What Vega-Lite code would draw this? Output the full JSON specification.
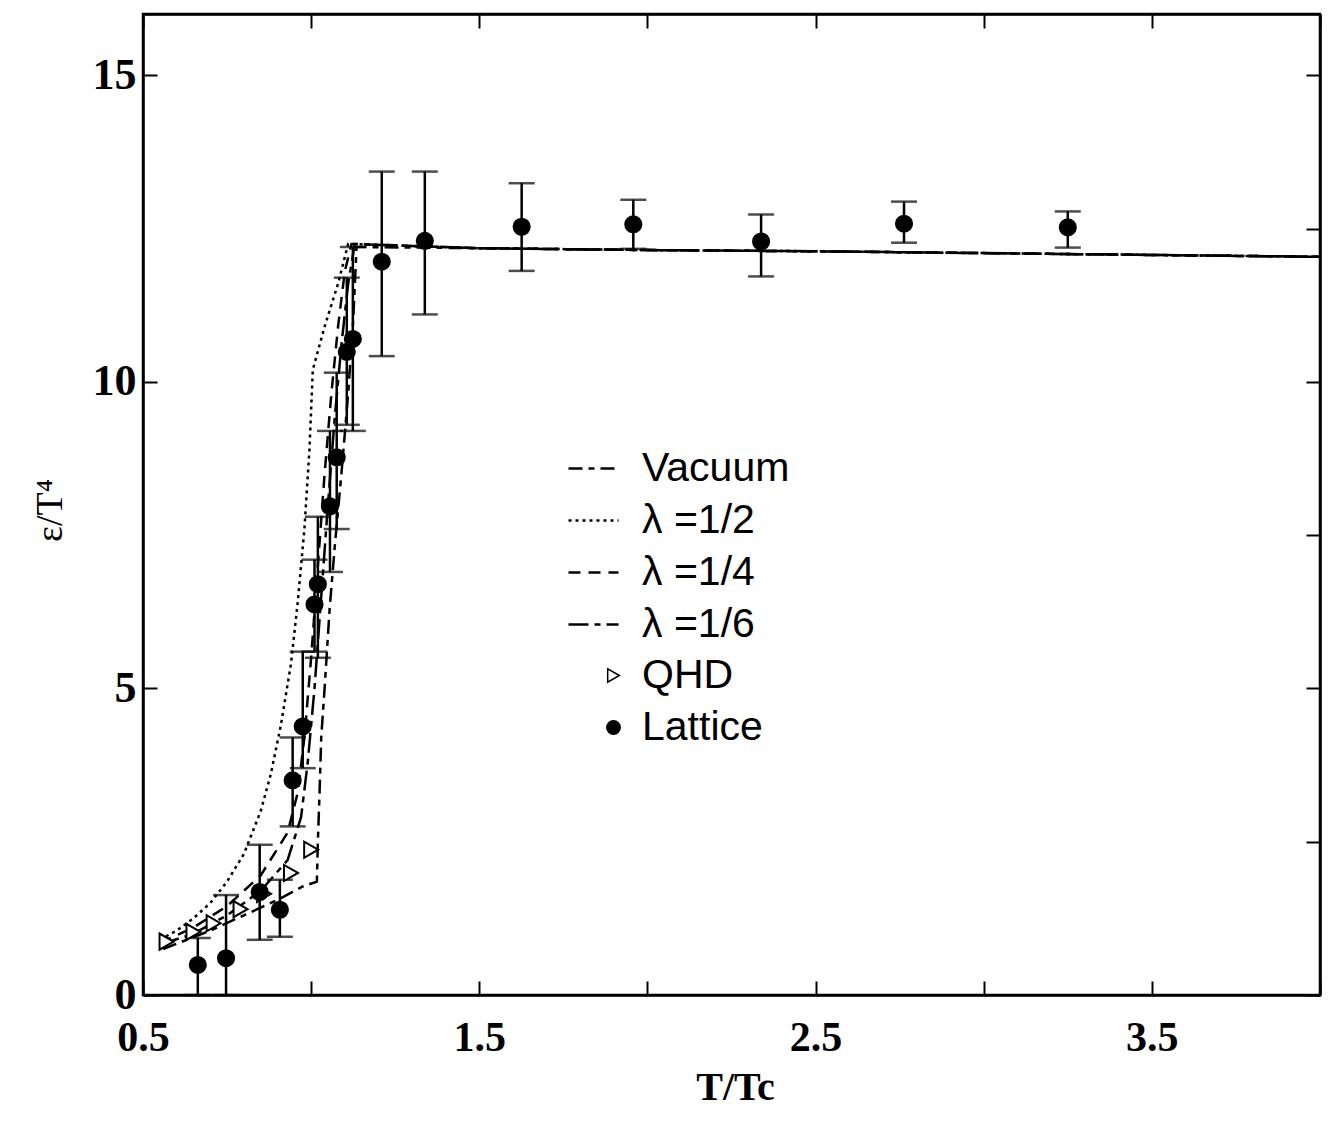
{
  "$schema": "https://vega.github.io/schema/vega-lite/v6.json",
  "autosize": "none",
  "width": 1177,
  "height": 981,
  "padding": {"left": 143, "top": 14, "right": 8, "bottom": 129},
  "background": "white",
  "config": {
    "view": {"stroke": "black", "strokeWidth": 2.5},
    "axis": {
      "domainColor": "black", "domainWidth": 2.5, "tickColor": "black", "tickWidth": 2,
      "grid": false, "labelFont": "Liberation Serif", "labelFontWeight": "bold", "labelFontSize": 42,
      "labelColor": "black", "titleColor": "black"
    },
    "legend": {"labelFont": "Liberation Sans", "labelFontSize": 41, "labelColor": "black", "padding": 0}
  },
  "datasets": {
    "curves": [
      {"T": 0.56, "e": 0.75, "model": "Vacuum"}, {"T": 0.7, "e": 1.05, "model": "Vacuum"}, {"T": 0.8, "e": 1.3, "model": "Vacuum"},
      {"T": 0.9, "e": 1.55, "model": "Vacuum"}, {"T": 0.975, "e": 1.77, "model": "Vacuum"}, {"T": 1.017, "e": 1.85, "model": "Vacuum"},
      {"T": 1.02, "e": 2.5, "model": "Vacuum"}, {"T": 1.025, "e": 3.3, "model": "Vacuum"}, {"T": 1.03, "e": 4.2, "model": "Vacuum"},
      {"T": 1.04, "e": 5.0, "model": "Vacuum"}, {"T": 1.055, "e": 6.3, "model": "Vacuum"}, {"T": 1.07, "e": 7.3, "model": "Vacuum"},
      {"T": 1.09, "e": 8.5, "model": "Vacuum"}, {"T": 1.11, "e": 9.8, "model": "Vacuum"}, {"T": 1.125, "e": 11.0, "model": "Vacuum"},
      {"T": 1.135, "e": 12.2, "model": "Vacuum"}, {"T": 1.5, "e": 12.18, "model": "Vacuum"}, {"T": 2.0, "e": 12.15, "model": "Vacuum"},
      {"T": 2.5, "e": 12.13, "model": "Vacuum"}, {"T": 3.0, "e": 12.1, "model": "Vacuum"}, {"T": 3.5, "e": 12.07, "model": "Vacuum"},
      {"T": 4.0, "e": 12.04, "model": "Vacuum"},

      {"T": 0.55, "e": 0.9, "model": "λ =1/2"}, {"T": 0.6, "e": 1.05, "model": "λ =1/2"}, {"T": 0.65, "e": 1.25, "model": "λ =1/2"},
      {"T": 0.7, "e": 1.5, "model": "λ =1/2"}, {"T": 0.75, "e": 1.85, "model": "λ =1/2"}, {"T": 0.8, "e": 2.3, "model": "λ =1/2"},
      {"T": 0.85, "e": 3.0, "model": "λ =1/2"}, {"T": 0.88, "e": 3.6, "model": "λ =1/2"}, {"T": 0.91, "e": 4.4, "model": "λ =1/2"},
      {"T": 0.94, "e": 5.4, "model": "λ =1/2"}, {"T": 0.96, "e": 6.4, "model": "λ =1/2"}, {"T": 0.98, "e": 7.6, "model": "λ =1/2"},
      {"T": 0.995, "e": 8.9, "model": "λ =1/2"}, {"T": 1.005, "e": 10.2, "model": "λ =1/2"}, {"T": 1.04, "e": 10.9, "model": "λ =1/2"},
      {"T": 1.08, "e": 11.6, "model": "λ =1/2"}, {"T": 1.11, "e": 12.25, "model": "λ =1/2"}, {"T": 1.5, "e": 12.18, "model": "λ =1/2"},
      {"T": 2.0, "e": 12.15, "model": "λ =1/2"}, {"T": 2.5, "e": 12.13, "model": "λ =1/2"}, {"T": 3.0, "e": 12.1, "model": "λ =1/2"},
      {"T": 3.5, "e": 12.07, "model": "λ =1/2"}, {"T": 4.0, "e": 12.04, "model": "λ =1/2"},

      {"T": 0.55, "e": 0.85, "model": "λ =1/4"}, {"T": 0.65, "e": 1.1, "model": "λ =1/4"}, {"T": 0.75, "e": 1.45, "model": "λ =1/4"},
      {"T": 0.85, "e": 1.95, "model": "λ =1/4"}, {"T": 0.93, "e": 2.65, "model": "λ =1/4"}, {"T": 0.96, "e": 3.3, "model": "λ =1/4"},
      {"T": 0.98, "e": 4.2, "model": "λ =1/4"}, {"T": 1.0, "e": 5.5, "model": "λ =1/4"}, {"T": 1.02, "e": 7.0, "model": "λ =1/4"},
      {"T": 1.04, "e": 8.5, "model": "λ =1/4"}, {"T": 1.06, "e": 9.8, "model": "λ =1/4"}, {"T": 1.08, "e": 10.9, "model": "λ =1/4"},
      {"T": 1.1, "e": 11.8, "model": "λ =1/4"}, {"T": 1.12, "e": 12.25, "model": "λ =1/4"}, {"T": 1.5, "e": 12.18, "model": "λ =1/4"},
      {"T": 2.0, "e": 12.15, "model": "λ =1/4"}, {"T": 2.5, "e": 12.13, "model": "λ =1/4"}, {"T": 3.0, "e": 12.1, "model": "λ =1/4"},
      {"T": 3.5, "e": 12.07, "model": "λ =1/4"}, {"T": 4.0, "e": 12.04, "model": "λ =1/4"},

      {"T": 0.55, "e": 0.82, "model": "λ =1/6"}, {"T": 0.65, "e": 1.0, "model": "λ =1/6"}, {"T": 0.75, "e": 1.3, "model": "λ =1/6"},
      {"T": 0.85, "e": 1.7, "model": "λ =1/6"}, {"T": 0.93, "e": 2.2, "model": "λ =1/6"}, {"T": 0.97, "e": 2.9, "model": "λ =1/6"},
      {"T": 0.99, "e": 3.8, "model": "λ =1/6"}, {"T": 1.01, "e": 5.0, "model": "λ =1/6"}, {"T": 1.03, "e": 6.5, "model": "λ =1/6"},
      {"T": 1.05, "e": 8.0, "model": "λ =1/6"}, {"T": 1.07, "e": 9.4, "model": "λ =1/6"}, {"T": 1.09, "e": 10.6, "model": "λ =1/6"},
      {"T": 1.11, "e": 11.6, "model": "λ =1/6"}, {"T": 1.13, "e": 12.25, "model": "λ =1/6"}, {"T": 1.5, "e": 12.18, "model": "λ =1/6"},
      {"T": 2.0, "e": 12.15, "model": "λ =1/6"}, {"T": 2.5, "e": 12.13, "model": "λ =1/6"}, {"T": 3.0, "e": 12.1, "model": "λ =1/6"},
      {"T": 3.5, "e": 12.07, "model": "λ =1/6"}, {"T": 4.0, "e": 12.04, "model": "λ =1/6"}
    ],
    "points": [
      {"T": 0.57, "e": 0.87, "series": "QHD"}, {"T": 0.65, "e": 1.03, "series": "QHD"}, {"T": 0.71, "e": 1.17, "series": "QHD"},
      {"T": 0.79, "e": 1.4, "series": "QHD"}, {"T": 0.86, "e": 1.65, "series": "QHD"}, {"T": 0.94, "e": 1.99, "series": "QHD"},
      {"T": 1.0, "e": 2.37, "series": "QHD"},
      {"T": 0.663, "e": 0.49, "lo": 0.0, "hi": 0.93, "series": "Lattice"},
      {"T": 0.747, "e": 0.6, "lo": 0.0, "hi": 1.63, "series": "Lattice"},
      {"T": 0.847, "e": 1.68, "lo": 0.9, "hi": 2.45, "series": "Lattice"},
      {"T": 0.907, "e": 1.39, "lo": 0.95, "hi": 1.88, "series": "Lattice"},
      {"T": 0.945, "e": 3.5, "lo": 2.75, "hi": 4.2, "series": "Lattice"},
      {"T": 0.975, "e": 4.38, "lo": 3.7, "hi": 5.6, "series": "Lattice"},
      {"T": 1.01, "e": 6.37, "lo": 5.6, "hi": 7.1, "series": "Lattice"},
      {"T": 1.02, "e": 6.7, "lo": 5.5, "hi": 7.8, "series": "Lattice"},
      {"T": 1.056, "e": 7.97, "lo": 6.9, "hi": 9.2, "series": "Lattice"},
      {"T": 1.076, "e": 8.77, "lo": 7.6, "hi": 10.15, "series": "Lattice"},
      {"T": 1.106, "e": 10.49, "lo": 9.3, "hi": 11.7, "series": "Lattice"},
      {"T": 1.124, "e": 10.7, "lo": 9.2, "hi": 12.2, "series": "Lattice"},
      {"T": 1.21, "e": 11.96, "lo": 10.42, "hi": 13.43, "series": "Lattice"},
      {"T": 1.338, "e": 12.3, "lo": 11.1, "hi": 13.43, "series": "Lattice"},
      {"T": 1.626, "e": 12.53, "lo": 11.81, "hi": 13.24, "series": "Lattice"},
      {"T": 1.958, "e": 12.57, "lo": 12.17, "hi": 12.97, "series": "Lattice"},
      {"T": 2.338, "e": 12.29, "lo": 11.72, "hi": 12.73, "series": "Lattice"},
      {"T": 2.763, "e": 12.58, "lo": 12.27, "hi": 12.94, "series": "Lattice"},
      {"T": 3.25, "e": 12.52, "lo": 12.19, "hi": 12.78, "series": "Lattice"}
    ]
  },
  "resolve": {"axis": {"x": "independent", "y": "independent"}},
  "layer": [
    {
      "data": {"name": "curves"},
      "mark": {"type": "line", "stroke": "black", "strokeWidth": 2.5},
      "encoding": {
        "x": {"field": "T", "type": "quantitative",
          "scale": {"domain": [0.5, 4.0], "nice": false, "zero": false},
          "axis": {"values": [0.5, 1, 1.5, 2, 2.5, 3, 3.5, 4], "tickSize": -14,
            "labelExpr": "datum.value % 1 == 0.5 ? format(datum.value, '.1f') : ''",
            "labelPadding": 36, "labelFlush": false,
            "title": "T/Tc", "titleFont": "Liberation Serif", "titleFontWeight": "bold", "titleFontSize": 40,
            "titleX": 592, "titleY": 92, "titleBaseline": "middle"}},
        "y": {"field": "e", "type": "quantitative",
          "scale": {"domain": [0, 16], "nice": false},
          "axis": {"values": [0, 5, 10, 15], "tickSize": -14, "labelPadding": 21, "labelFlush": false,
            "labelFontSize": 44,
            "title": "ε/T⁴", "titleFont": "Liberation Serif", "titleFontWeight": "normal", "titleFontSize": 38,
            "titleAngle": -90, "titleX": -93, "titleY": 496, "titleAlign": "center", "titleBaseline": "middle"}},
        "strokeDash": {"field": "model", "type": "nominal",
          "scale": {"domain": ["Vacuum", "λ =1/2", "λ =1/4", "λ =1/6"],
            "range": [[14, 6, 6, 6], [3, 4], [12, 8], [20, 6, 6, 6]]},
          "legend": {"title": null, "orient": "none", "legendX": 424, "legendY": 428,
            "symbolType": "stroke", "symbolSize": 2500, "symbolStrokeColor": "black", "symbolStrokeWidth": 2.5,
            "labelOffset": 22, "rowPadding": 5}}
      }
    },
    {
      "data": {"name": "points"},
      "transform": [{"filter": "datum.series == 'Lattice'"}],
      "mark": {"type": "rule", "stroke": "black", "strokeWidth": 2.5},
      "encoding": {
        "x": {"field": "T", "type": "quantitative", "axis": null},
        "y": {"field": "lo", "type": "quantitative", "axis": null},
        "y2": {"field": "hi"}
      }
    },
    {
      "data": {"name": "points"},
      "transform": [{"filter": "datum.series == 'Lattice'"}],
      "mark": {"type": "tick", "orient": "horizontal", "size": 26, "thickness": 2.5, "color": "black"},
      "encoding": {
        "x": {"field": "T", "type": "quantitative", "axis": null},
        "y": {"field": "lo", "type": "quantitative", "axis": null}
      }
    },
    {
      "data": {"name": "points"},
      "transform": [{"filter": "datum.series == 'Lattice'"}],
      "mark": {"type": "tick", "orient": "horizontal", "size": 26, "thickness": 2.5, "color": "black"},
      "encoding": {
        "x": {"field": "T", "type": "quantitative", "axis": null},
        "y": {"field": "hi", "type": "quantitative", "axis": null}
      }
    },
    {
      "data": {"name": "points"},
      "mark": {"type": "point", "strokeWidth": 2, "opacity": 1, "fillOpacity": 1},
      "encoding": {
        "x": {"field": "T", "type": "quantitative", "axis": null},
        "y": {"field": "e", "type": "quantitative", "axis": null},
        "shape": {"field": "series", "type": "nominal",
          "scale": {"domain": ["QHD", "Lattice"], "range": ["triangle-right", "circle"]},
          "legend": {"title": null, "orient": "none", "legendX": 450, "legendY": 641,
            "symbolSize": 180, "symbolStrokeWidth": 1.5,
            "labelOffset": 8, "rowPadding": 10}},
        "fill": {"field": "series", "type": "nominal",
          "scale": {"domain": ["QHD", "Lattice"], "range": ["white", "black"]},
          "legend": {"title": null, "orient": "none", "legendX": 450, "legendY": 641,
            "symbolSize": 180, "symbolStrokeWidth": 1.5,
            "labelOffset": 8, "rowPadding": 10}},
        "stroke": {"field": "series", "type": "nominal",
          "scale": {"domain": ["QHD", "Lattice"], "range": ["black", "black"]},
          "legend": {"title": null, "orient": "none", "legendX": 450, "legendY": 641,
            "symbolSize": 180, "symbolStrokeWidth": 1.5,
            "labelOffset": 8, "rowPadding": 10}},
        "size": {"value": 260}
      }
    },
    {
      "data": {"name": "curves"},
      "mark": {"type": "point", "opacity": 0},
      "encoding": {
        "x": {"field": "T", "type": "quantitative",
          "axis": {"orient": "top", "values": [0.5, 1, 1.5, 2, 2.5, 3, 3.5, 4], "tickSize": -14, "labels": false, "title": null}},
        "y": {"field": "e", "type": "quantitative",
          "axis": {"orient": "right", "values": [0, 2.5, 5, 7.5, 10, 12.5, 15], "tickSize": -14, "labels": false, "title": null}}
      }
    }
  ]
}
